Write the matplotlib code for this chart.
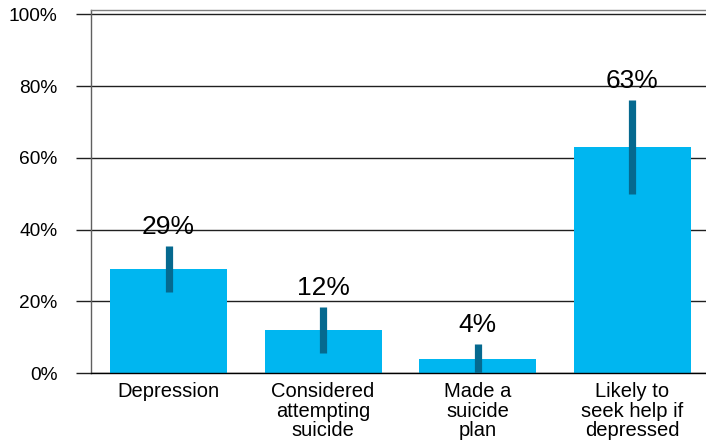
import matplotlib
matplotlib.use("Agg")
import matplotlib.pyplot as plt
from matplotlib.ticker import PercentFormatter

plt.rcParams['font.family'] = ['Liberation Sans', 'DejaVu Sans']

# ---- data ----
categories = ["Depression", "Considered\nattempting\nsuicide", "Made a\nsuicide\nplan",
              "Likely to\nseek help if\ndepressed"]
values = [29, 12, 4, 63]
errors = [6.5, 6.5, 4, 13.2]
value_labels = ["29%", "12%", "4%", "63%"]
yticks = [0, 20, 40, 60, 80, 100]

bar_color = "#00B6F0"
err_color = "#05698F"

fig = plt.figure(figsize=(7.06, 4.44), dpi=100)
ax = fig.add_axes([0.1282, 0.1599, 0.8718, 0.8165])

x = list(range(len(categories)))
ax.bar(x, values, width=0.757, color=bar_color, zorder=2)
ax.errorbar(x, values, yerr=errors, fmt='none', ecolor=err_color,
            elinewidth=5.2, capsize=0, zorder=3)

for xi, v, e, lab in zip(x, values, errors, value_labels):
    ax.annotate(lab, (xi, v + e), xytext=(0, 8.6), textcoords='offset points',
                ha='center', va='baseline', fontsize=19, color='black')

ax.set_xlim(-0.505, 3.478)
ax.set_ylim(0, 101.1)
ax.set_yticks(yticks)
ax.yaxis.set_major_formatter(PercentFormatter(decimals=0))
ax.set_xticks(x)
ax.set_xticklabels(categories, fontsize=14.5, linespacing=1.04)

ax.yaxis.grid(True, color='#202020', linewidth=1.0, zorder=0)
ax.set_axisbelow(True)
ax.tick_params(axis='y', direction='out', length=10.8, width=1.0, color='#202020',
               pad=13, labelsize=13.8)
ax.tick_params(axis='x', length=0, pad=6.5)

ax.spines['right'].set_visible(False)
ax.spines['top'].set_color('#808080')
ax.spines['left'].set_color('#606060')
ax.spines['bottom'].set_color('black')
for s in ax.spines.values():
    s.set_linewidth(1.0)

plt.savefig("out.png", dpi=100)
